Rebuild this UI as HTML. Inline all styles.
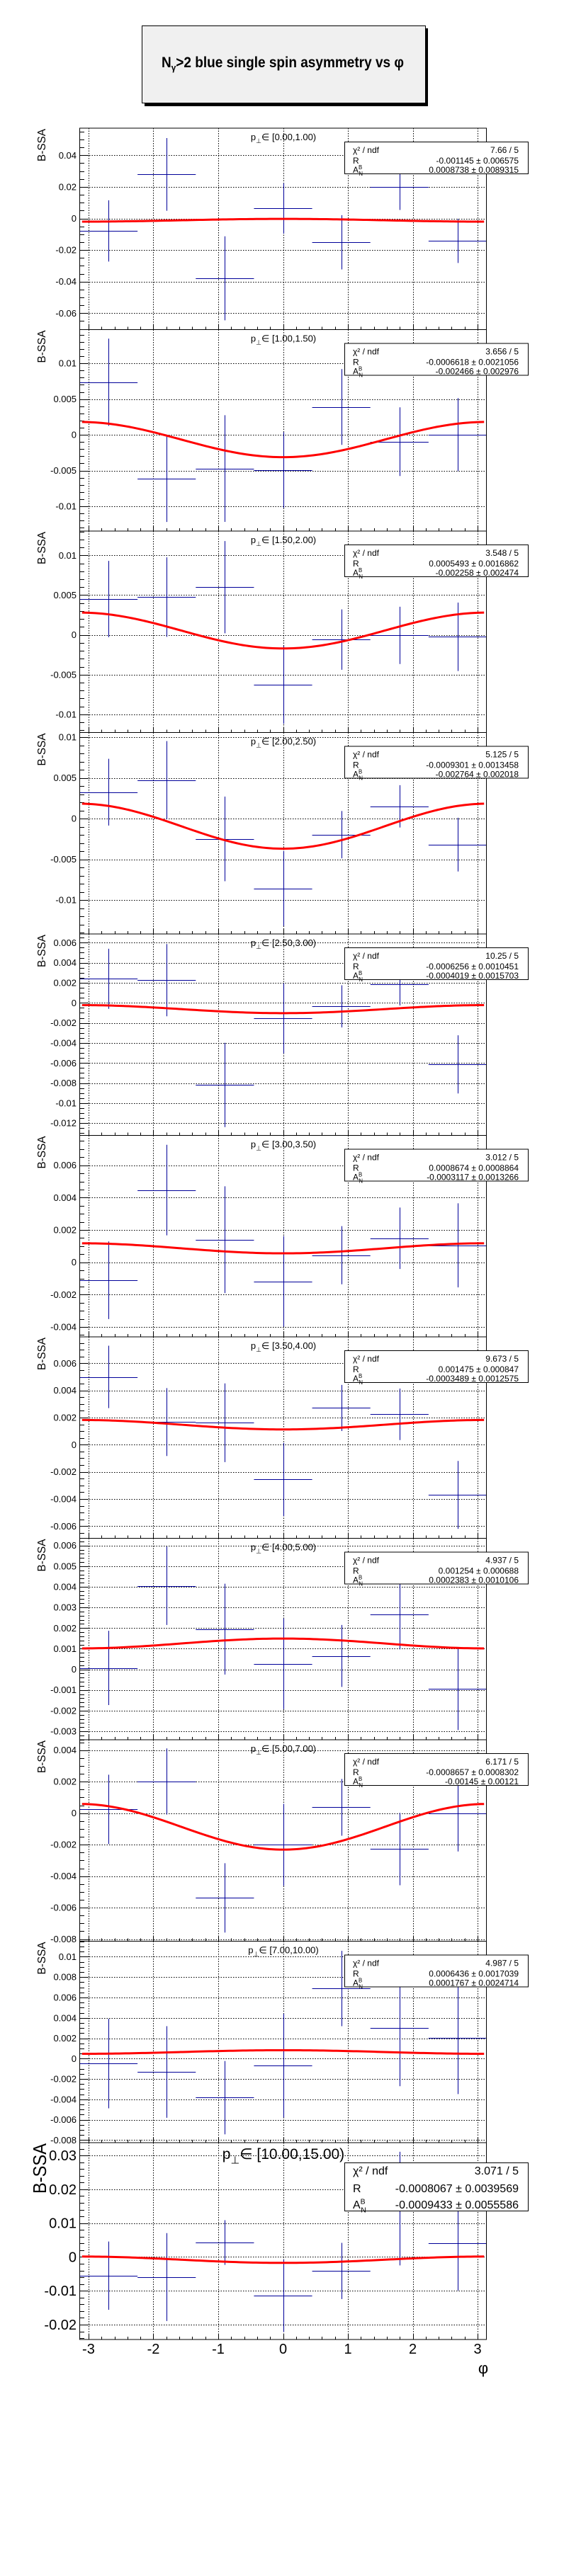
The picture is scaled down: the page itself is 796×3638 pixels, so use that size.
<!DOCTYPE html>
<html><head><meta charset="utf-8"><title>Ngamma>2 blue single spin asymmetry vs phi</title>
<style>
html,body{margin:0;padding:0;background:#fff;}
svg{display:block;font-family:"Liberation Sans",sans-serif;}
</style></head>
<body>
<svg id="chart" xmlns="http://www.w3.org/2000/svg" width="796" height="3638" viewBox="0 0 796 3638">
  <rect x="0" y="0" width="796" height="3638" fill="#fff"/>
  <g>
    <rect x="204" y="40" width="400" height="110" fill="#000"/>
    <rect x="200.5" y="36.5" width="400" height="109" fill="#f0f0f0" stroke="#000" stroke-width="1"/>
    <text x="228" y="95" font-size="21" font-weight="bold" textLength="342" lengthAdjust="spacingAndGlyphs">N<tspan font-size="13" dy="5">γ</tspan><tspan dy="-5">&gt;2 blue single spin asymmetry vs  φ</tspan></text>
  </g>
  <g id="panels"></g>
</svg>
<script>
const binCenters = [-2.6928, -1.7952, -0.8976, 0, 0.8976, 1.7952, 2.6928];
const ptRanges = ["0.00,1.00","1.00,1.50","1.50,2.00","2.00,2.50","2.50,3.00","3.00,3.50","3.50,4.00","4.00,5.00","5.00,7.00","7.00,10.00","10.00,15.00"];
const yValues = [
  [-0.0079, 0.0279, -0.0379, 0.0064, -0.0151, 0.0201, -0.0142],
  [0.00736, -0.0061, -0.00472, -0.00492, 0.00389, -0.00096, 0.00003],
  [0.00451, 0.00475, 0.0060, -0.00629, -0.00059, -0.00006, -0.00024],
  [0.00325, 0.00472, -0.00249, -0.00858, -0.00197, 0.00151, -0.00319],
  [0.0024, 0.00226, -0.00819, -0.00155, -0.00035, 0.00184, -0.00614],
  [-0.00111, 0.00447, 0.0014, -0.00118, 0.00044, 0.00149, 0.00105],
  [0.0050, 0.00167, 0.00162, -0.00256, 0.00271, 0.00224, -0.0037],
  [0.00007, 0.00405, 0.00195, 0.00027, 0.00065, 0.00267, -0.00094],
  [0.00024, 0.00201, -0.00538, -0.00201, 0.00037, -0.00228, -0.00003],
  [-0.00049, -0.00132, -0.00384, -0.00069, 0.00688, 0.00299, 0.00201],
  [-0.00552, -0.00594, 0.00427, -0.01147, -0.00413, 0.0143, 0.00406]
];
const yErrors = [
  [0.0194, 0.0230, 0.0266, 0.0160, 0.0172, 0.0147, 0.0140],
  [0.0061, 0.0061, 0.00746, 0.0053, 0.0053, 0.0048, 0.0051],
  [0.0048, 0.0050, 0.0058, 0.0049, 0.0038, 0.0036, 0.0043],
  [0.0041, 0.0048, 0.0052, 0.0046, 0.0029, 0.0026, 0.0033],
  [0.0030, 0.0036, 0.0042, 0.0035, 0.0021, 0.0021, 0.0029],
  [0.0024, 0.0028, 0.0033, 0.0028, 0.0018, 0.0019, 0.0026],
  [0.0023, 0.0025, 0.0029, 0.0027, 0.0017, 0.0019, 0.0025],
  [0.0018, 0.0019, 0.0022, 0.0022, 0.0015, 0.0017, 0.0020],
  [0.0022, 0.0021, 0.0022, 0.0026, 0.0018, 0.0023, 0.0024],
  [0.0044, 0.0045, 0.0036, 0.0051, 0.0037, 0.0057, 0.0055],
  [0.0101, 0.0130, 0.0066, 0.0107, 0.0083, 0.0168, 0.0140]
];
const yMin = [-0.0704, -0.01347, -0.01228, -0.01417, -0.01322, -0.00461, -0.0069, -0.00341, -0.00813, -0.00826, -0.0244];
const yMax = [0.0572, 0.01472, 0.01306, 0.01058, 0.00687, 0.00785, 0.00795, 0.00635, 0.00466, 0.01153, 0.0338];
const yMajorStep = [0.02, 0.005, 0.005, 0.005, 0.002, 0.002, 0.002, 0.001, 0.002, 0.002, 0.01];
const yMinorStep = [0.005, 0.001, 0.001, 0.001, 0.0005, 0.0005, 0.0005, 0.0002, 0.0005, 0.0005, 0.002];
const fitR = [-0.001145, -0.0006618, 0.0005493, -0.0009301, -0.0006256, 0.0008674, 0.001475, 0.001254, -0.0008657, 0.0006436, -0.0008067];
const fitRErr = [0.006575, 0.0021056, 0.0016862, 0.0013458, 0.0010451, 0.0008864, 0.000847, 0.000688, 0.0008302, 0.0017039, 0.0039569];
const fitA = [0.0008738, -0.002466, -0.002258, -0.002764, -0.0004019, -0.0003117, -0.0003489, 0.0002383, -0.00145, 0.0001767, -0.0009433];
const fitAErr = [0.0089315, 0.002976, 0.002474, 0.002018, 0.0015703, 0.0013266, 0.0012575, 0.0010106, 0.00121, 0.0024714, 0.0055586];
const chi2Text = ["7.66 / 5","3.656 / 5","3.548 / 5","5.125 / 5","10.25 / 5","3.012 / 5","9.673 / 5","4.937 / 5","6.171 / 5","4.987 / 5","3.071 / 5"];
const xTicks = [-3, -2, -1, 0, 1, 2, 3];

const NS = "http://www.w3.org/2000/svg";
const FX0 = 112, FX1 = 687;
const PHI0 = -Math.PI, PHI1 = Math.PI;
const halfBin = Math.PI / 7;
function xPx(v){ return FX0 + (v - PHI0) / (PHI1 - PHI0) * (FX1 - FX0); }
function mk(tag, attrs, parent){
  const e = document.createElementNS(NS, tag);
  for (const k in attrs) e.setAttribute(k, attrs[k]);
  parent.appendChild(e);
  return e;
}
function fmt(v){ return String(Number(v.toFixed(6))); }

const root = document.getElementById("panels");
for (let p = 0; p < 11; p++) {
  const last = (p === 10);
  const top = 181 + p * 284.5;
  const bot = last ? 3304 : top + 284.5;
  const lo = yMin[p], hi = yMax[p];
  const yPx = v => bot - (v - lo) / (hi - lo) * (bot - top);

  const g = mk("g", {}, root);
  
  

  const clip = mk("clipPath", {id: "clip" + p}, g);
  mk("rect", {x: FX0, y: top, width: FX1 - FX0, height: bot - top}, clip);

  const grid = mk("g", {stroke: "#000", "stroke-width": 1, "stroke-dasharray": "1.5 2"}, g);
  
  
  for (const t of xTicks) {
    const x = Math.round(xPx(t)) + 0.5;
    const l = mk("line", {x1: x, x2: x, y1: top, y2: bot}, grid);
    
    
  }
  const mStart = Math.ceil(lo / yMajorStep[p] - 1e-9);
  const mEnd = Math.floor(hi / yMajorStep[p] + 1e-9);
  for (let k = mStart; k <= mEnd; k++) {
    const v = k * yMajorStep[p];
    const y = Math.round(yPx(v)) + 0.5;
    const l = mk("line", {x1: FX0, x2: FX1, y1: y, y2: y}, grid);
    
    
  }

  const ax = mk("g", {stroke: "#000", "stroke-width": 1}, g);
  
  
  const nStart = Math.ceil(lo / yMinorStep[p] - 1e-9);
  const nEnd = Math.floor(hi / yMinorStep[p] + 1e-9);
  for (let k = nStart; k <= nEnd; k++) {
    const v = k * yMinorStep[p];
    const isMajor = Math.abs(v / yMajorStep[p] - Math.round(v / yMajorStep[p])) < 1e-6;
    const y = Math.round(yPx(v)) + 0.5;
    const l = mk("line", {x1: FX0, x2: FX0 + (isMajor ? 13 : 7), y1: y, y2: y}, ax);
    
    
  }
  for (let k = mStart; k <= mEnd; k++) {
    const v = k * yMajorStep[p];
    const t = mk("text", {x: 108, y: yPx(v) + (last ? 7 : 4.5), "text-anchor": "end", "font-size": last ? 20 : 13, stroke: "none", fill: "#000"}, ax);
    t.textContent = fmt(v);
    
    
  }

  const xa = mk("g", {stroke: "#000", "stroke-width": 1}, g);
  
  
  for (let k = -15; k <= 15; k++) {
    const v = k * 0.2;
    const isMajor = (k % 5 === 0);
    const x = Math.round(xPx(v)) + 0.5;
    const l = mk("line", {x1: x, x2: x, y1: bot, y2: bot - (isMajor ? 8 : 4)}, xa);
    
    
  }
  if (last) {
    for (const t of xTicks) {
      const tx = mk("text", {x: xPx(t), y: 3324, "text-anchor": "middle", "font-size": 20, stroke: "none", fill: "#000"}, xa);
      tx.textContent = String(t);
      
      
    }
    const xt = mk("text", {x: 682, y: 3352, "text-anchor": "middle", "font-size": 22, stroke: "none", fill: "#000"}, xa);
    xt.textContent = "φ";
    
    
  }

  const yt = mk("text", {x: last ? 65 : 64, y: top + 1, "text-anchor": "end", "font-size": last ? 26 : 16, transform: "rotate(-90 " + (last ? 65 : 64) + " " + (top + 1) + ")", textLength: last ? 71 : 46, lengthAdjust: "spacingAndGlyphs"}, g);
  yt.textContent = "B-SSA";
  
  

  const dg = mk("g", {stroke: "#000099", "stroke-width": 1, "clip-path": "url(#clip" + p + ")"}, g);
  
  
  for (let i = 0; i < binCenters.length; i++) {
    const c = binCenters[i], v = yValues[p][i], e = yErrors[p][i];
    const y = Math.round(yPx(v)) + 0.5;
    const x = Math.round(xPx(c)) + 0.5;
    const h = mk("line", {x1: xPx(c - halfBin), x2: xPx(c + halfBin), y1: y, y2: y}, dg);
    
    
    const ve = mk("line", {x1: x, x2: x, y1: yPx(v + e), y2: yPx(v - e)}, dg);
    
    
  }

  let pts = [];
  for (let k = 0; k <= 120; k++) {
    const phi = -3.1 + 6.2 * k / 120;
    pts.push(xPx(phi).toFixed(2) + "," + yPx(fitR[p] + fitA[p] * Math.cos(phi)).toFixed(2));
  }
  const fc = mk("polyline", {points: pts.join(" "), fill: "none", stroke: "#ff0000", "stroke-width": 3, "clip-path": "url(#clip" + p + ")"}, g);
  
  

  const fr = mk("rect", {x: FX0 + 0.5, y: top, width: FX1 - FX0 - 1, height: bot - top, fill: "none", stroke: "#000", "stroke-width": 1}, g);
  
  

  const fs = last ? 21 : 13;
  const pl = mk("text", {x: 400, y: last ? 3049 : top + 17, "text-anchor": "middle", "font-size": fs}, g);
  
  
  const s1 = mk("tspan", {}, pl); s1.textContent = "p";
  const s2 = mk("tspan", {"font-size": fs * 0.7, dy: fs * 0.3}, pl); s2.textContent = "⊥";
  const s3 = mk("tspan", {dy: -fs * 0.3}, pl); s3.textContent = "∈ [" + ptRanges[p] + ")";

  const sb = mk("g", {}, g);
  
  
  const bt = last ? 3054 : top + 19;
  const bh = last ? 68 : 45;
  mk("rect", {x: 486.5, y: bt + 0.5, width: 259, height: bh, fill: "#fff", stroke: "#000", "stroke-width": 1}, sb);
  const sfs = last ? 16 : 12;
  const rows = last ? [3071, 3096, 3119] : [top + 35, top + 50, top + 63];
  const labels = ["χ² / ndf", "R", "A"];
  const vals = [chi2Text[p], String(fitR[p]) + " ± " + String(fitRErr[p]), String(fitA[p]) + " ± " + String(fitAErr[p])];
  for (let r = 0; r < 3; r++) {
    const lt = mk("text", {x: 498, y: rows[r], "font-size": sfs}, sb);
    lt.textContent = labels[r];
    if (r === 2) {
      const sup = mk("tspan", {"font-size": sfs * 0.65, dy: -sfs * 0.4}, lt); sup.textContent = "B";
      const sub = mk("tspan", {"font-size": sfs * 0.65, dx: -sfs * 0.4, dy: sfs * 0.75}, lt); sub.textContent = "N";
    }
    
    
    const vt = mk("text", {x: 732, y: rows[r], "text-anchor": "end", "font-size": sfs}, sb);
    vt.textContent = vals[r];
    
    
  }
}
</script>
</body></html>
